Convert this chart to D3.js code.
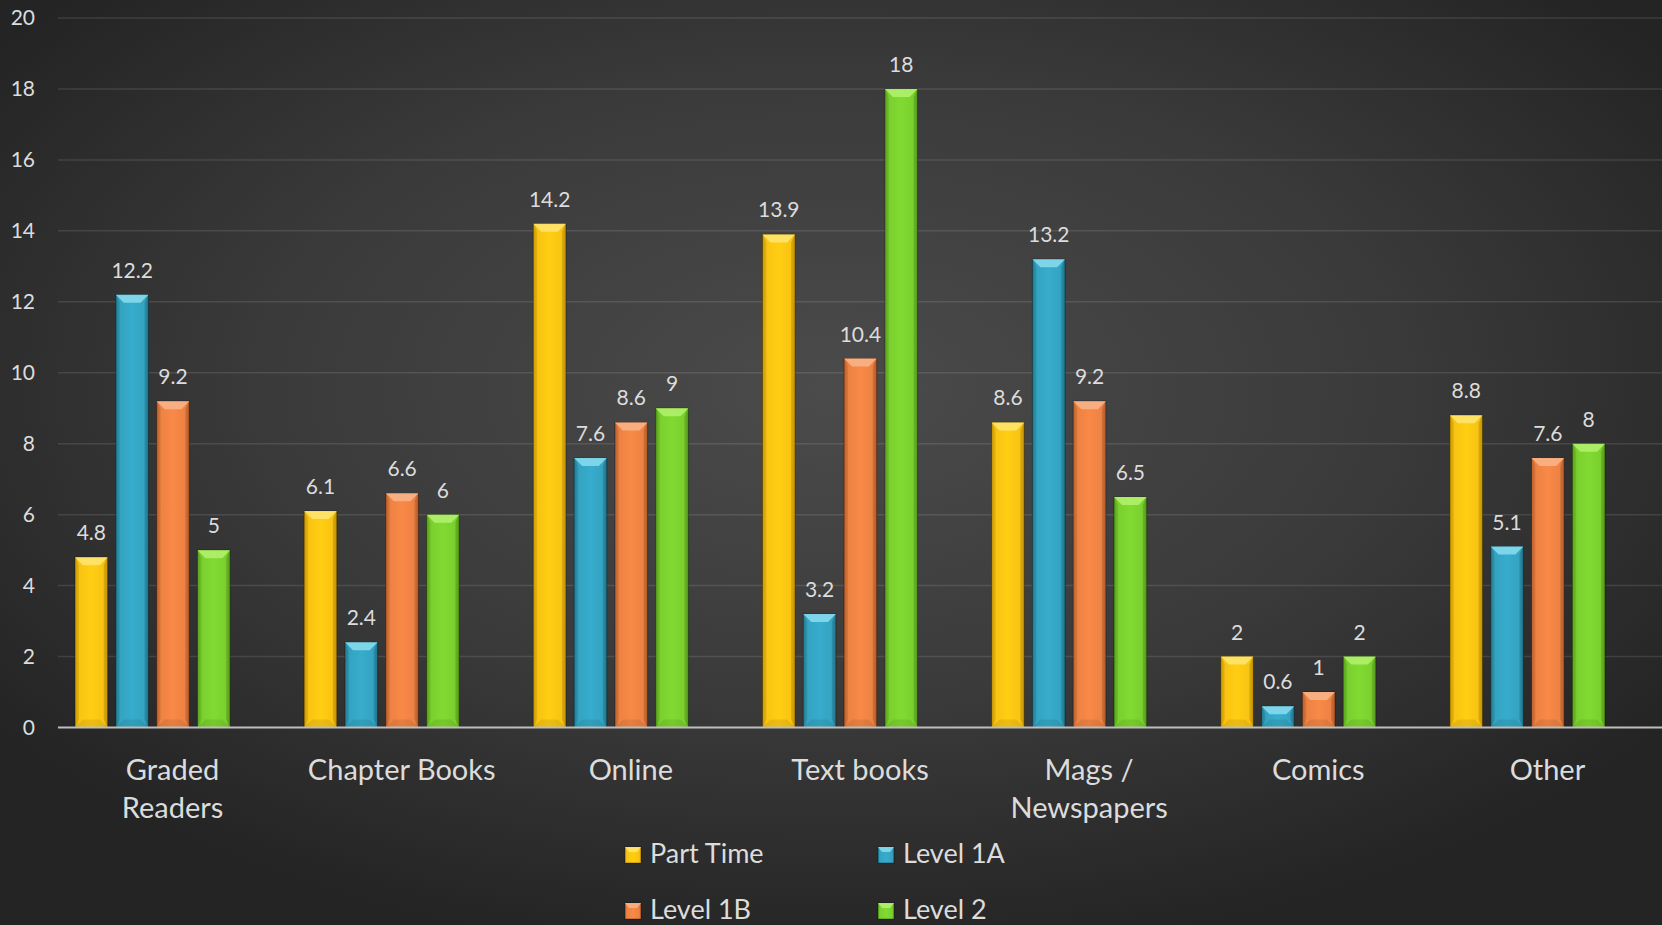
<!DOCTYPE html>
<html>
<head>
<meta charset="utf-8">
<script src="https://cdn.jsdelivr.net/npm/d3@7"></script>
<style>
  html, body { margin: 0; padding: 0; background: #2a2a2a; }
  svg { display: block; }
  text { font-family: Lato, "Open Sans", sans-serif; fill: #dcdcdc; }
</style>
</head>
<body>
<svg id="chart" width="1662" height="925"></svg>
<script>
// ---- data ----
const categories = ["Graded Readers", "Chapter Books", "Online", "Text books", "Mags / Newspapers", "Comics", "Other"];
const categoryLines = [["Graded", "Readers"], ["Chapter Books"], ["Online"], ["Text books"], ["Mags /", "Newspapers"], ["Comics"], ["Other"]];
const seriesNames = ["Part Time", "Level 1A", "Level 1B", "Level 2"];
const partTime = [4.8, 6.1, 14.2, 13.9, 8.6, 2, 8.8];
const level1A  = [12.2, 2.4, 7.6, 3.2, 13.2, 0.6, 5.1];
const level1B  = [9.2, 6.6, 8.6, 10.4, 9.2, 1, 7.6];
const level2   = [5, 6, 9, 18, 6.5, 2, 8];
const yTicks = [0, 2, 4, 6, 8, 10, 12, 14, 16, 18, 20];

const seriesValues = [partTime, level1A, level1B, level2];
const baseColors  = ["#f9c312", "#34a3c1", "#ec8243", "#7acf2e"];
const lightColors = ["#fde46e", "#86d9ec", "#f8b387", "#b0f06c"];
const darkColors  = ["#e0a800", "#23869f", "#d0672c", "#5fb31c"];

const W = 1662, H = 925;
const svg = d3.select("#chart");
const defs = svg.append("defs");

// background
const bg = defs.append("radialGradient").attr("id", "bg")
  .attr("cx", "50%").attr("cy", "42%").attr("r", "62%");
bg.append("stop").attr("offset", "0%").attr("stop-color", "#4b4b4b");
bg.append("stop").attr("offset", "55%").attr("stop-color", "#3a3a3a");
bg.append("stop").attr("offset", "100%").attr("stop-color", "#242424");
svg.append("rect").attr("width", W).attr("height", H).attr("fill", "url(#bg)");

// bar gradients
seriesNames.forEach((s, i) => {
  const g = defs.append("linearGradient").attr("id", "bar" + i)
    .attr("x1", "0%").attr("x2", "100%").attr("y1", "0%").attr("y2", "0%");
  g.append("stop").attr("offset", "0%").attr("stop-color", darkColors[i]);
  g.append("stop").attr("offset", "12%").attr("stop-color", baseColors[i]);
  g.append("stop").attr("offset", "50%").attr("stop-color", d3.color(baseColors[i]).brighter(0.15));
  g.append("stop").attr("offset", "88%").attr("stop-color", baseColors[i]);
  g.append("stop").attr("offset", "100%").attr("stop-color", darkColors[i]);
});

// scales
const y = d3.scaleLinear().domain([0, 20]).range([727.5, 18]);
const xLabel = d3.scaleBand().domain(categories).range([58, 1662]).padding(0);
const xBar = d3.scaleBand().domain(categories).range([38, 1642]).padding(0);
const x1 = d3.scaleBand().domain(seriesNames).range([0, xBar.bandwidth()])
  .paddingInner(0.2).paddingOuter(0.907);

// gridlines
svg.append("g").selectAll("line").data(yTicks.filter(t => t > 0)).join("line")
  .attr("x1", 58).attr("x2", W)
  .attr("y1", d => y(d)).attr("y2", d => y(d))
  .attr("stroke", "rgba(255,255,255,0.11)").attr("stroke-width", 1.5);

// y axis labels
const yAxis = d3.axisLeft(y).tickValues(yTicks).tickSize(0).tickPadding(0).tickFormat(d3.format("d"));
const yg = svg.append("g").attr("transform", "translate(35,0)").call(yAxis);
yg.select(".domain").remove();
yg.selectAll("text").attr("font-size", 21).attr("fill", "#dcdcdc")
  .style("font-family", "Lato, 'Open Sans', sans-serif");

// bars
const bevel = 8;
const groups = svg.append("g").selectAll("g").data(categories).join("g")
  .attr("transform", d => `translate(${xBar(d)},0)`);

groups.each(function(cat, ci) {
  const g = d3.select(this);
  seriesNames.forEach((s, si) => {
    const v = seriesValues[si][ci];
    const bx = x1(s), bw = x1.bandwidth();
    const top = y(v), bottom = y(0);
    const h = bottom - top;
    g.append("rect").attr("x", bx).attr("y", top).attr("width", bw).attr("height", h)
      .attr("fill", `url(#bar${si})`)
      .attr("stroke", "rgba(0,0,0,0.35)").attr("stroke-width", 1);
    const bv = Math.min(bevel, h / 2);
    // top bevel
    g.append("path")
      .attr("d", `M${bx},${top} L${bx + bw},${top} L${bx + bw - bv},${top + bv} L${bx + bv},${top + bv} Z`)
      .attr("fill", lightColors[si]).attr("opacity", 0.9);
    // side bevels
    g.append("path")
      .attr("d", `M${bx},${top} L${bx + bv * 0.5},${top + bv} L${bx + bv * 0.5},${bottom - bv} L${bx},${bottom} Z`)
      .attr("fill", "rgba(0,0,0,0.08)");
    g.append("path")
      .attr("d", `M${bx + bw},${top} L${bx + bw - bv * 0.5},${top + bv} L${bx + bw - bv * 0.5},${bottom - bv} L${bx + bw},${bottom} Z`)
      .attr("fill", "rgba(0,0,0,0.12)");
    // bottom bevel
    g.append("path")
      .attr("d", `M${bx},${bottom} L${bx + bw},${bottom} L${bx + bw - bv},${bottom - bv} L${bx + bv},${bottom - bv} Z`)
      .attr("fill", "rgba(0,0,0,0.08)");
    // value label
    g.append("text").attr("x", bx + bw / 2).attr("y", top - 17)
      .attr("text-anchor", "middle").attr("font-size", 21)
      .text(d3.format("")(v));
  });
});

// x axis line
svg.append("line").attr("x1", 58).attr("x2", W).attr("y1", y(0)).attr("y2", y(0))
  .attr("stroke", "#bdbdbd").attr("stroke-width", 2);

// category labels
const cl = svg.append("g").selectAll("text").data(categories).join("text")
  .attr("text-anchor", "middle").attr("font-size", 29)
  .attr("transform", d => `translate(${xLabel(d) + xLabel.bandwidth() / 2},0)`);
cl.each(function(d, i) {
  d3.select(this).selectAll("tspan").data(categoryLines[i]).join("tspan")
    .attr("x", 0).attr("y", (t, j) => 780 + j * 38).text(t => t);
});

// legend
const legendPos = [[625, 863], [878, 863], [625, 919], [878, 919]];
const lg = svg.append("g").selectAll("g").data(seriesNames).join("g")
  .attr("transform", (d, i) => `translate(${legendPos[i][0]},${legendPos[i][1]})`);
lg.append("rect").attr("x", 0).attr("y", -16).attr("width", 16).attr("height", 16)
  .attr("fill", (d, i) => `url(#bar${i})`).attr("stroke", "rgba(0,0,0,0.35)");
lg.append("path").attr("d", "M0,-16 L16,-16 L12,-11 L4,-11 Z")
  .attr("fill", (d, i) => lightColors[i]).attr("opacity", 0.9);
lg.append("text").attr("x", 25).attr("y", 0).attr("font-size", 27).text(d => d);
</script>
</body>
</html>
